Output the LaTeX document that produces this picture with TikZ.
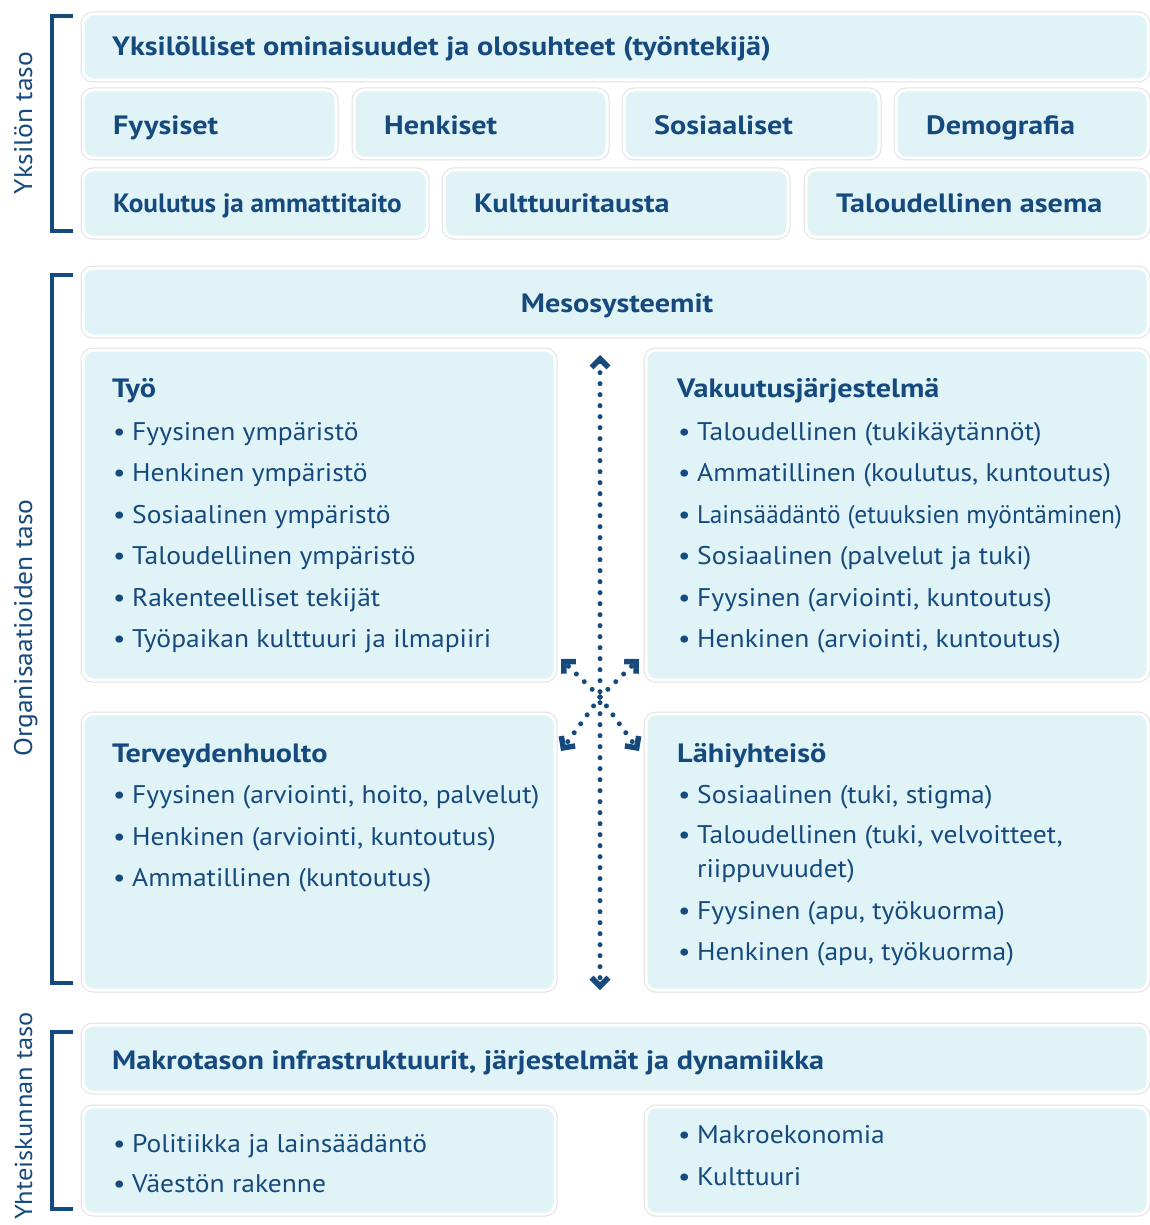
\documentclass[tikz,border=0pt]{standalone}
\usepackage{fontspec}
\setmainfont{PT Sans}[FakeStretch=1.08, BoldFeatures={FakeStretch=1.14}]
\usetikzlibrary{arrows.meta}
\definecolor{navy}{HTML}{164A7E}
\definecolor{boxfill}{HTML}{E0F4F8}
\definecolor{rim}{HTML}{E0E0E0}

\begin{document}
\begin{tikzpicture}[
                x=1pt, y=-1pt,
                every node/.style={text=navy, inner sep=0pt, font=\fontsize{25.5}{30}\selectfont},
                box/.style={fill=boxfill, draw=white, line width=3pt, rounded corners=10pt,
                            preaction={draw=rim, line width=5pt}},
                title/.style={anchor=base west, font=\fontsize{26.5}{30}\selectfont\bfseries},
                item/.style={anchor=base west, execute at begin node={\makebox[20pt][l]{\hspace{1pt}\textbullet}}},
                cont/.style={anchor=base west},
                level/.style={rotate=90, anchor=base},
                bracket/.style={draw=navy, line width=4pt},
                dots/.style={navy, line width=5pt, line cap=round, dash pattern=on 0pt off 11pt},
                barb/.style={-{Straight Barb[angle=90:12pt, line width=5.5pt]}}
            ]
            \useasboundingbox (0,0) rectangle (1150,1225);

            % Yksilon taso
            \draw[bracket] (73,16) -- (52,16) -- (52,231) -- (73,231);
            \node[level] (lvl1) at (32,123) {Yksilön taso};

            % First Row
            \draw[box] (83,14) rectangle (1148,80);
            \node[title] (yks) at (112,56) {Yksilölliset ominaisuudet ja olosuhteet (työntekijä)};

            % Second Row
            \foreach \l/\r/\t [count=\i] in {83/336/Fyysiset, 354/607/Henkiset, 624/879/Sosiaaliset, 896/1148/Demografia} {
                \draw[box] (\l,90) rectangle (\r,158);
                \node[title] (ind\i) at (\l+30,135) {\t};
            }

            % Third Row
            \foreach \l/\r/\t [count=\i] in {83/427/{\scalebox{0.9}[1]{Koulutus ja ammattitaito}}, 444/788/Kulttuuritausta, 806/1148/Taloudellinen asema} {
                \draw[box] (\l,170) rectangle (\r,237);
                \node[title] (bg\i) at (\l+30,212) {\t};
            }

            % Organisaatioiden taso
            \draw[bracket] (73,275) -- (52,275) -- (52,983) -- (73,983);
            \node[level] (lvl2) at (32,628) {Organisaatioiden taso};

            \draw[box] (83,268) rectangle (1148,336);
            \node[title, anchor=base] (meso) at (617,312) {Mesosysteemit};

            \draw[box] (83,350) rectangle (555,680);
            \draw[box] (646,350) rectangle (1148,680);
            \draw[box] (83,714) rectangle (555,990);
            \draw[box] (646,714) rectangle (1148,990);

            % Tyo
            \node[title] (tyo) at (112,397) {Työ};
            \foreach \y/\t [count=\i] in {440/Fyysinen ympäristö, 481/Henkinen ympäristö, 523/Sosiaalinen ympäristö,
                                          564/Taloudellinen ympäristö, 606/Rakenteelliset tekijät, 647/Työpaikan kulttuuri ja ilmapiiri} {
                \node[item] (tyo\i) at (112,\y) {\t};
            }

            % Vakuutusjarjestelma
            \node[title] (vak) at (677,397) {Vakuutusjärjestelmä};
            \foreach \y/\t [count=\i] in {{440/Taloudellinen (tukikäytännöt)}, {481/Ammatillinen (koulutus, kuntoutus)},
                                          {523/{\scalebox{0.92}[1]{Lainsäädäntö (etuuksien myöntäminen)}}}, {564/Sosiaalinen (palvelut ja tuki)},
                                          {606/Fyysinen (arviointi, kuntoutus)}, {647/Henkinen (arviointi, kuntoutus)}} {
                \node[item] (vak\i) at (677,\y) {\t};
            }

            % Terveydenhuolto
            \node[title] (ter) at (112,762) {Terveydenhuolto};
            \foreach \y/\t [count=\i] in {{803/Fyysinen (arviointi, hoito, palvelut)}, {845/Henkinen (arviointi, kuntoutus)},
                                          {886/Ammatillinen (kuntoutus)}} {
                \node[item] (ter\i) at (112,\y) {\t};
            }

            % Lahiyhteiso
            \node[title] (lah) at (677,762) {Lähiyhteisö};
            \foreach \y/\t [count=\i] in {{803/Sosiaalinen (tuki, stigma)}, {843/Taloudellinen (tuki, velvoitteet,},
                                          {919/Fyysinen (apu, työkuorma)}, {960/Henkinen (apu, työkuorma)}} {
                \node[item] (lah\i) at (677,\y) {\t};
            }
            \node[cont] (lah2b) at (697,877) {riippuvuudet)};

            % Arrows
            \coordinate (hub) at (600,697);
            \coordinate (up) at (600,355);
            \coordinate (down) at (600,990);
            \coordinate (nw) at (561,659);
            \coordinate (ne) at (639,659);
            \coordinate (sw) at (561,751);
            \coordinate (se) at (639,751);
            \draw[dots, {Straight Barb[angle=90:12pt, line width=5.5pt]}-{Straight Barb[angle=90:12pt, line width=5.5pt]}] (up) -- (down);
            \foreach \c in {nw,ne,sw,se} { \draw[dots, barb] (hub) -- (\c); }

            % Yhteiskunnan taso
            \draw[bracket] (73,1032) -- (52,1032) -- (52,1209) -- (73,1209);
            \node[level, anchor=base east, font=\fontsize{24.5}{30}\selectfont] (lvl3) at (32,1012) {Yhteiskunnan taso};

            \draw[box] (83,1025) rectangle (1148,1092);
            \node[title] (mak) at (112,1069) {Makrotason infrastruktuurit, järjestelmät ja dynamiikka};

            \draw[box] (83,1107) rectangle (555,1214);
            \draw[box] (646,1107) rectangle (1148,1214);
            \node[item] (pol) at (112,1152) {Politiikka ja lainsäädäntö};
            \node[item] (vae) at (112,1192) {Väestön rakenne};
            \node[item] (eko) at (677,1143) {Makroekonomia};
            \node[item] (kul) at (677,1185) {Kulttuuri};

        \end{tikzpicture}
\end{document}
